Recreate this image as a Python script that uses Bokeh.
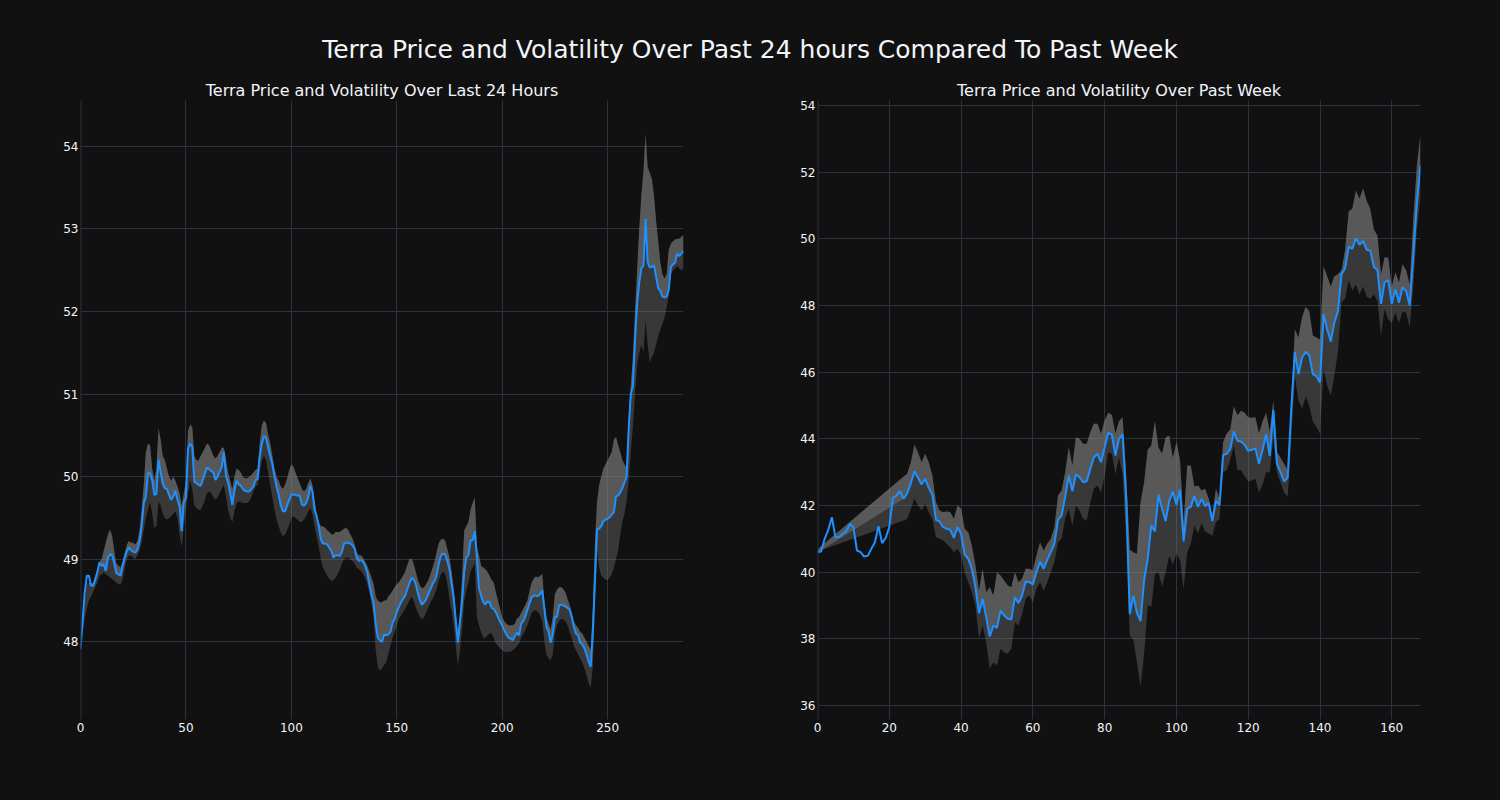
import numpy as np
from bokeh.plotting import figure
from bokeh.models import Range1d, FixedTicker, Span, Div, ColumnDataSource
from bokeh.layouts import column, row
from bokeh.embed import file_html
from bokeh.resources import INLINE

MAIN_TITLE = "Terra Price and Volatility Over Past 24 hours Compared To Past Week"
DAY_TITLE = "Terra Price and Volatility Over Last 24 Hours"
WEEK_TITLE = "Terra Price and Volatility Over Past Week"

# ---- last 24 hours (5-minute steps) ----
day_price = [
    47.91, 48.25, 48.60, 48.80, 48.80, 48.68, 48.68, 48.75, 48.85, 48.96,
    48.92, 48.94, 48.86, 49.02, 49.06, 49.05, 48.95, 48.83, 48.82, 48.80,
    48.92, 49.02, 49.10, 49.14, 49.11, 49.09, 49.08, 49.12, 49.22, 49.40,
    49.68, 49.76, 50.05, 50.04, 49.96, 49.78, 49.79, 50.21, 50.05, 49.92,
    49.86, 49.85, 49.78, 49.72, 49.76, 49.83, 49.72, 49.64, 49.34, 49.69,
    49.74, 50.34, 50.40, 50.36, 49.94, 49.92, 49.90, 49.89, 49.96, 50.04,
    50.11, 50.09, 50.07, 50.05, 49.96, 50.00, 50.06, 50.12, 50.30, 50.01,
    49.93, 49.80, 49.66, 49.83, 49.95, 49.91, 49.89, 49.85, 49.83, 49.82,
    49.82, 49.85, 49.88, 49.96, 49.97, 50.24, 50.40, 50.49, 50.47, 50.35,
    50.25, 50.15, 50.00, 49.88, 49.78, 49.65, 49.58, 49.58, 49.65, 49.72,
    49.79, 49.78, 49.78, 49.77, 49.77, 49.66, 49.65, 49.68, 49.75, 49.89,
    49.82, 49.60, 49.52, 49.40, 49.24, 49.19, 49.19, 49.18, 49.14, 49.10,
    49.02, 49.05, 49.05, 49.04, 49.09, 49.19, 49.20, 49.20, 49.19, 49.17,
    49.13, 49.02, 48.98, 48.99, 48.97, 48.92, 48.84, 48.70, 48.57, 48.47,
    48.22, 48.05, 48.02, 48.00, 48.09, 48.08, 48.09, 48.12, 48.23, 48.28,
    48.36, 48.42, 48.48, 48.52, 48.56, 48.64, 48.71, 48.77, 48.76, 48.70,
    48.59, 48.50, 48.45, 48.48, 48.52, 48.58, 48.64, 48.70, 48.74, 48.82,
    48.95, 49.05, 49.07, 49.05, 48.98, 48.88, 48.70, 48.53, 48.25, 47.99,
    48.25, 48.50, 48.85, 49.02, 49.05, 49.23, 49.23, 49.34, 49.02, 48.65,
    48.56, 48.48, 48.45, 48.49, 48.48, 48.41, 48.40, 48.36, 48.30, 48.25,
    48.20, 48.14, 48.09, 48.05, 48.04, 48.02, 48.07, 48.11, 48.08, 48.22,
    48.25, 48.31, 48.39, 48.47, 48.54, 48.56, 48.56, 48.55, 48.58, 48.62,
    48.40, 48.18, 48.12, 47.99, 48.10, 48.30, 48.30, 48.44, 48.45, 48.44,
    48.43, 48.41, 48.39, 48.30, 48.18, 48.10, 48.08, 47.99, 47.97, 47.92,
    47.85, 47.76, 47.70, 48.12, 48.75, 49.36, 49.37, 49.40, 49.46, 49.48,
    49.49, 49.51, 49.54, 49.57, 49.76, 49.77, 49.81, 49.86, 49.93, 50.00,
    50.58, 51.00, 51.10, 51.65, 52.10, 52.35, 52.52, 52.56, 53.12, 52.60,
    52.53, 52.54, 52.56, 52.42, 52.28, 52.25, 52.18, 52.17, 52.18, 52.26,
    52.54, 52.57, 52.59, 52.70, 52.67, 52.70, 52.73,
]
day_upper = [
    47.93, 48.2, 48.5, 48.7, 48.72, 48.7, 48.72, 48.8, 48.88, 48.97,
    49.0, 49.1, 49.2, 49.3, 49.36, 49.28, 49.1, 48.95, 48.92, 48.9,
    48.98, 49.08, 49.18, 49.22, 49.2, 49.2, 49.18, 49.22, 49.35, 49.6,
    49.9, 50.3, 50.4, 50.38, 50.1, 49.95, 50.1, 50.59, 50.45, 50.25,
    50.2, 50.1, 50.0, 49.95, 50.0, 49.95, 49.88, 49.8, 49.65, 49.8,
    49.95, 50.55, 50.63, 50.6, 50.25, 50.2, 50.2, 50.25, 50.3, 50.35,
    50.4, 50.38, 50.32, 50.25, 50.22, 50.25, 50.3, 50.35, 50.35, 50.2,
    50.05, 49.95, 49.85, 50.0, 50.1, 50.08, 50.05, 50.0, 49.98, 49.98,
    50.0, 50.02, 50.05, 50.08, 50.1, 50.4, 50.62, 50.68, 50.65, 50.5,
    50.4, 50.25, 50.1, 50.0, 49.95, 49.88, 49.85, 49.9, 49.98, 50.08,
    50.15, 50.12, 50.05, 49.98, 49.92, 49.85, 49.82, 49.85, 49.92, 49.98,
    49.9, 49.72, 49.55, 49.45, 49.4, 49.4, 49.38, 49.35, 49.33, 49.3,
    49.3, 49.33, 49.33, 49.33, 49.35, 49.37, 49.38, 49.35, 49.3, 49.25,
    49.18, 49.08, 49.05, 49.05, 49.02, 48.97, 48.92, 48.85, 48.78, 48.7,
    48.55, 48.5, 48.48, 48.48, 48.5, 48.5, 48.55, 48.58, 48.62, 48.66,
    48.7, 48.72, 48.76, 48.8, 48.85, 48.93, 49.0, 49.01, 48.95, 48.85,
    48.75, 48.68, 48.65, 48.66, 48.7, 48.75, 48.82, 48.9, 48.98, 49.1,
    49.2, 49.24, 49.25, 49.22, 49.12, 49.02, 48.85, 48.65, 48.35, 48.1,
    48.35, 48.8, 49.35, 49.4, 49.45, 49.6, 49.68, 49.75, 49.15, 49.05,
    48.92, 48.9, 48.88, 48.85, 48.8, 48.75, 48.72, 48.6, 48.5, 48.4,
    48.3, 48.25, 48.22, 48.2, 48.2, 48.2, 48.22, 48.28, 48.3, 48.35,
    48.4, 48.45, 48.5, 48.62, 48.72, 48.77, 48.79, 48.78, 48.8, 48.82,
    48.5, 48.3, 48.22, 48.15, 48.3, 48.58, 48.63, 48.66, 48.66, 48.64,
    48.6, 48.52, 48.45, 48.35, 48.25, 48.2, 48.17, 48.12, 48.1, 48.05,
    48.0, 47.95, 47.9, 48.4, 49.2, 49.7, 49.9, 50.0, 50.1, 50.15,
    50.2, 50.25, 50.3, 50.45, 50.48, 50.38, 50.3, 50.2, 50.15, 50.1,
    50.7, 51.1, 51.45, 52.0, 52.5, 53.0, 53.4, 53.7, 54.15, 53.75,
    53.68, 53.6, 53.4, 53.1, 52.85, 52.6, 52.45, 52.4, 52.45, 52.75,
    52.82, 52.85, 52.87, 52.88, 52.88, 52.9, 52.93,
]
day_lower = [
    47.9, 48.1, 48.28, 48.4, 48.5, 48.55, 48.6, 48.66, 48.72, 48.8,
    48.82, 48.84, 48.82, 48.8, 48.78, 48.76, 48.74, 48.72, 48.7, 48.69,
    48.75, 48.9, 49.0, 49.05, 49.04, 49.02, 49.0, 49.05, 49.1, 49.2,
    49.35, 49.5, 49.6, 49.7, 49.55, 49.38, 49.4, 49.7, 49.65, 49.55,
    49.5, 49.48, 49.5, 49.52, 49.55, 49.58, 49.5, 49.3, 49.15, 49.4,
    49.6, 49.8, 49.95, 49.85, 49.65, 49.62, 49.6, 49.6, 49.65, 49.72,
    49.8, 49.82, 49.8, 49.75, 49.72, 49.75, 49.8, 49.85, 49.9, 49.75,
    49.6, 49.5, 49.45, 49.58, 49.68, 49.7, 49.7, 49.68, 49.68, 49.68,
    49.7, 49.75, 49.82, 49.88, 49.9, 50.05, 50.2, 50.25, 50.2, 50.05,
    49.9, 49.75, 49.6, 49.48, 49.4, 49.32, 49.28, 49.3, 49.35, 49.42,
    49.5, 49.52, 49.5, 49.48, 49.45, 49.45, 49.48, 49.52, 49.58, 49.62,
    49.55, 49.4, 49.28, 49.15, 49.0, 48.9, 48.85, 48.8, 48.76, 48.74,
    48.75, 48.78, 48.82, 48.88, 48.95, 49.0, 49.02, 49.02, 49.0, 48.98,
    48.95, 48.9, 48.88, 48.86, 48.82, 48.78, 48.7, 48.6, 48.45, 48.3,
    47.9, 47.7, 47.65, 47.68, 47.72, 47.75, 47.85, 47.95, 48.05, 48.12,
    48.2, 48.28, 48.32, 48.36, 48.4, 48.45, 48.5, 48.55, 48.5, 48.42,
    48.35, 48.3, 48.27, 48.3, 48.36, 48.42, 48.48, 48.52, 48.58, 48.65,
    48.75, 48.82, 48.85, 48.82, 48.7, 48.52, 48.38, 48.2, 47.95, 47.72,
    47.9, 48.15, 48.5, 48.62, 48.72, 48.85, 48.9, 48.95, 48.3, 48.2,
    48.12, 48.05, 48.05, 48.08, 48.1, 48.1, 48.05, 47.98, 47.95, 47.92,
    47.9, 47.88, 47.88, 47.88, 47.88, 47.9, 47.92, 47.95, 47.98, 48.05,
    48.1, 48.15, 48.2, 48.28, 48.35, 48.38, 48.38, 48.36, 48.32, 48.25,
    48.0, 47.85, 47.8, 47.78, 47.85, 48.1, 48.2, 48.25, 48.28, 48.27,
    48.25, 48.2, 48.12, 48.05, 47.95, 47.9, 47.85, 47.8, 47.75, 47.68,
    47.6, 47.5, 47.45, 47.7, 48.5, 49.1, 48.9, 48.8, 48.78, 48.75,
    48.75, 48.78, 48.82, 48.9, 49.0, 49.1, 49.3, 49.45, 49.55, 49.7,
    49.95, 50.3, 50.6, 51.0, 51.35, 51.5, 51.6, 51.5, 51.9, 51.6,
    51.38, 51.45, 51.5, 51.6, 51.7, 51.78, 51.85, 51.92, 52.05, 52.2,
    52.45, 52.5, 52.52, 52.55, 52.52, 52.5, 52.52,
]

# ---- past week (hourly steps) ----
week_price = [
    40.60, 40.62, 41.00, 41.27, 41.65, 41.05, 41.05, 41.15, 41.22, 41.45,
    41.35, 40.65, 40.60, 40.47, 40.49, 40.70, 40.90, 41.38, 40.87, 41.03,
    41.35, 42.23, 42.30, 42.43, 42.20, 42.37, 42.67, 43.03, 42.83, 42.63,
    42.80, 42.53, 42.32, 41.57, 41.52, 41.35, 41.30, 41.27, 41.03, 41.35,
    41.15, 40.53, 40.40, 40.10, 39.55, 38.77, 39.20, 38.65, 38.07, 38.40,
    38.33, 38.85, 38.70, 38.60, 38.58, 39.25, 39.07, 39.30, 39.72, 39.70,
    39.63, 40.00, 40.32, 40.10, 40.37, 40.60, 40.85, 41.57, 41.70, 42.25,
    42.90, 42.43, 42.93, 42.85, 42.70, 42.73, 43.10, 43.45, 43.55, 43.30,
    43.75, 44.18, 44.13, 43.50, 44.00, 44.13, 42.20, 38.74, 39.29, 38.78,
    38.53, 39.76, 40.39, 41.41, 41.22, 42.32, 41.90, 41.53, 42.14, 42.42,
    42.02, 42.47, 40.92, 41.90, 41.96, 42.29, 41.96, 42.20, 41.98, 42.08,
    41.53, 42.14, 42.02, 43.51, 43.55, 43.70, 44.22, 43.94, 43.92, 43.82,
    43.64, 43.67, 43.71, 43.25, 43.67, 44.14, 43.49, 44.86, 43.25, 43.00,
    42.72, 42.84, 44.90, 46.61, 45.94, 46.43, 46.61, 46.51, 45.94, 45.88,
    45.69, 47.74, 47.29, 46.92, 47.49, 47.83, 48.94, 49.12, 49.77, 49.70,
    50.02, 49.82, 49.94, 49.67, 49.65, 49.16, 49.06, 48.05, 48.70, 48.76,
    48.05, 48.49, 48.08, 48.55, 48.43, 48.00, 49.50, 51.10, 52.20,
]
week_upper = [
    40.68, 40.78, None, None, None, None, None, None, None, None,
    None, None, None, None, None, None, None, None, None, None,
    None, None, None, None, 42.87, 42.95, 43.3, 43.82, 43.6, 43.3,
    43.55, 43.3, 42.9, 42.1, 41.85, 41.8, 41.82, 41.8, 41.6, 42.0,
    41.9, 41.3, 41.2, 40.8, 40.2, 39.45, 40.1, 39.4, 39.55, 39.3,
    40.0, 39.9, 39.75, 39.6, 39.55, 40.0, 39.7, 39.8, 40.1, 40.1,
    40.05, 40.5, 40.9, 40.65, 40.85, 41.0, 41.35, 42.3, 42.45, 43.0,
    43.75, 43.2, 44.05, 44.0, 43.85, 43.85, 44.2, 44.45, 44.45, 44.15,
    44.55, 44.78, 44.72, 44.16, 44.53, 44.65, 42.94, 40.67, 40.6, 40.55,
    42.1, 42.7, 43.67, 43.8, 44.53, 43.74, 43.55, 44.04, 44.1, 43.43,
    43.9, 43.37, 41.47, 43.2, 43.2, 42.57, 42.6, 42.45, 42.5, 42.2,
    41.71, 42.5, 42.2, 43.9, 44.16, 44.28, 44.98, 44.71, 44.84, 44.78,
    44.65, 44.63, 44.65, 44.16, 44.53, 44.78, 44.22, 45.14, 43.61, 43.43,
    43.25, 43.06, 45.2, 47.29, 47.04, 47.65, 47.96, 47.83, 47.1, 47.04,
    46.98, 49.18, 48.88, 48.57, 48.88, 48.94, 49.06, 49.67, 50.83, 50.9,
    51.45, 51.2, 51.51, 51.14, 50.9, 50.28, 50.1, 48.94, 49.45, 49.43,
    48.57, 49.0, 48.69, 49.24, 49.06, 48.63, 50.6, 52.2, 53.15,
]
week_lower = [
    40.6, 40.66, None, None, None, None, None, None, None, None,
    None, None, None, None, None, None, None, None, None, None,
    None, None, None, None, 41.55, 41.6, 41.9, 42.2, 42.0, 41.85,
    42.05, 41.8, 41.6, 41.05, 41.0, 40.95, 40.85, 40.75, 40.6, 40.7,
    40.5, 40.0, 39.7, 39.4, 39.0, 38.0, 38.4, 37.9, 37.1, 37.3,
    37.2, 37.7, 37.6, 37.55, 37.7, 38.5, 38.4, 38.75, 39.2, 39.3,
    39.1, 39.5, 39.7, 39.45, 39.7, 40.0, 40.3, 40.9, 41.0, 41.6,
    41.9, 41.4, 42.0, 41.85, 41.6, 41.55, 42.1, 42.5, 42.6, 42.4,
    42.9, 43.6, 43.55, 42.94, 43.43, 42.94, 40.98, 38.1, 37.98, 37.3,
    36.57, 37.55, 39.0, 38.96, 39.94, 40.0, 39.57, 40.0, 40.49, 40.24,
    40.55, 40.37, 39.5, 40.6, 40.85, 41.4, 41.16, 41.47, 41.22, 41.16,
    41.1, 41.5, 41.6, 43.0, 43.06, 43.37, 43.8, 43.06, 43.06, 42.88,
    42.72, 42.75, 42.8, 42.39, 42.63, 43.0, 43.0, 44.04, 43.0, 42.7,
    42.39, 42.26, 44.0, 45.88, 45.14, 44.9, 45.26, 45.0, 44.53, 44.35,
    44.16, 46.1, 45.6, 45.3, 45.9, 46.6, 48.1, 48.2, 48.75, 48.45,
    48.63, 48.33, 48.57, 48.26, 48.2, 48.33, 48.14, 47.1, 47.9, 47.59,
    47.47, 47.78, 47.47, 47.83, 47.78, 47.35, 48.6, 50.3, 51.25,
]

day_x_ticks = [0, 50, 100, 150, 200, 250]
day_y_ticks = [48, 49, 50, 51, 52, 53, 54]
week_x_ticks = [0, 20, 40, 60, 80, 100, 120, 140, 160]
week_y_ticks = [36, 38, 40, 42, 44, 46, 48, 50, 52, 54]

BG = "#111111"
GRID = "#283442"
TXT = "#f2f5fa"
FONT = "DejaVu Sans"


def make_panel(title, price, upper, lower, xr, yr, xticks, yticks, bl, br):
    price = np.array(price, dtype=float)
    upper = np.array(upper, dtype=float)
    lower = np.array(lower, dtype=float)
    assert len(price) == len(upper) == len(lower), (len(price), len(upper), len(lower))
    x = np.arange(len(price))
    ok = ~(np.isnan(upper) | np.isnan(lower))
    xb, ub, lb, pb = x[ok], upper[ok], lower[ok], price[ok]
    mid = np.clip(pb, lb, ub)

    p = figure(width=bl + 603 + br, height=30 + 619 + 40,
               x_range=Range1d(*xr), y_range=Range1d(*yr),
               min_border_left=bl, min_border_right=br,
               min_border_top=30, min_border_bottom=40,
               output_backend="svg", toolbar_location=None,
               background_fill_color=BG, border_fill_color=BG,
               outline_line_color=None, title=title)
    p.title.align = "center"
    p.title.text_font = FONT
    p.title.text_font_size = "16px"
    p.title.text_font_style = "normal"
    p.title.text_color = TXT
    p.title.standoff = 2

    for ax in (p.xaxis, p.yaxis):
        ax.axis_line_color = None
        ax.major_tick_line_color = None
        ax.minor_tick_line_color = None
        ax.major_tick_out = 0
        ax.major_tick_in = 0
        ax.minor_tick_out = 0
        ax.minor_tick_in = 0
        ax.major_label_text_font = FONT
        ax.major_label_text_font_size = "12px"
        ax.major_label_text_color = TXT
    p.xaxis.ticker = FixedTicker(ticks=xticks)
    p.yaxis.ticker = FixedTicker(ticks=yticks)
    p.xaxis.major_label_standoff = 3
    p.yaxis.major_label_standoff = 2
    p.xgrid.grid_line_color = GRID
    p.ygrid.grid_line_color = GRID
    p.xgrid.ticker = FixedTicker(ticks=xticks)
    p.ygrid.ticker = FixedTicker(ticks=yticks)

    p.add_layout(Span(location=0, dimension="height", line_color=GRID, line_width=2))

    src = ColumnDataSource(dict(x=xb, lo=lb, hi=ub, mid=mid))
    p.varea(x="x", y1="lo", y2="hi", source=src, fill_color="#808080", fill_alpha=0.36)
    p.varea(x="x", y1="mid", y2="hi", source=src, fill_color="#808080", fill_alpha=0.45)
    p.line(x, price, line_color="#1e90ff", line_width=2)
    return p


p1 = make_panel(DAY_TITLE, day_price, day_upper, day_lower, (0, 286), (47.06, 54.554),
                day_x_ticks, day_y_ticks, 80, 67)
p2 = make_panel(WEEK_TITLE, week_price, week_upper, week_lower, (0, 168), (35.58, 54.15),
                week_x_ticks, week_y_ticks, 67, 72)

head = Div(text=(f'<div style="width:1500px;text-align:center;font-family:\'DejaVu Sans\';'
                 f'font-size:25px;line-height:25px;padding-top:37px;color:{TXT};">'
                 f'{MAIN_TITLE}</div>'),
           width=1492, height=70, margin=0,
           styles={"background-color": BG})

layout = column(head, row(p1, p2, spacing=0), spacing=0,
                styles={"background-color": BG})

html = file_html(layout, INLINE)
html = html.replace("<body>", '<body style="background-color:#111111;">')
open("out.html", "w").write(html)
